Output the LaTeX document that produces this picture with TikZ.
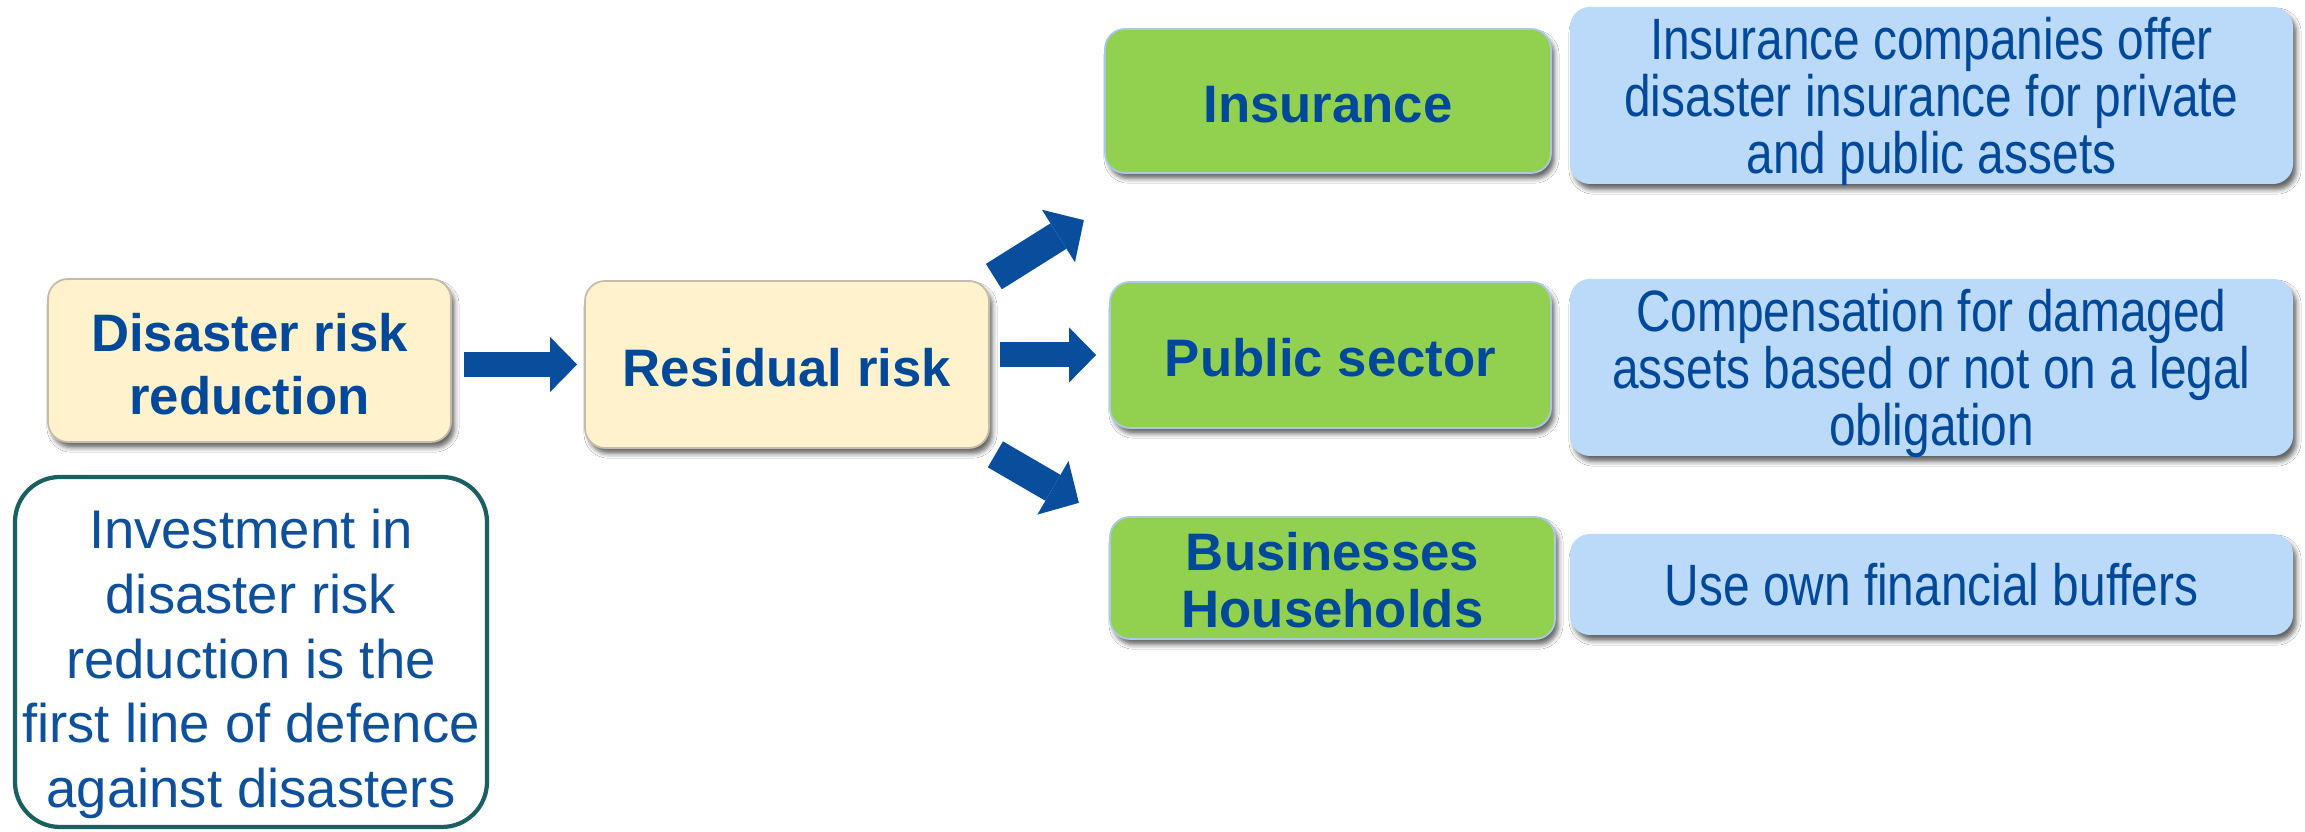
\documentclass[tikz,border=0pt]{standalone}
\usepackage{fontspec}
\setmainfont{Liberation Sans}
\newfontfamily\narrowfont[FakeStretch=0.82]{Liberation Sans}
\usetikzlibrary{arrows.meta,shadows.blur}

\definecolor{navy}{RGB}{0,72,153}
\definecolor{textblue}{RGB}{14,80,156}
\definecolor{cream}{RGB}{255,242,204}
\definecolor{creamline}{RGB}{196,188,168}
\definecolor{leaf}{RGB}{146,208,80}
\definecolor{leafline}{RGB}{170,200,232}
\definecolor{sky}{RGB}{187,218,250}
\definecolor{teal}{RGB}{26,96,96}
\definecolor{arrowblue}{RGB}{8,78,156}

\begin{document}
\begin{tikzpicture}[
  box/.style={rounded corners=0.2cm, inner sep=0pt},
  shade/.style={blur shadow={shadow xshift=1.0pt, shadow yshift=-1.6pt,
      shadow blur radius=1.3pt, shadow opacity=60}},
  creambox/.style={box, shade, fill=cream, draw=creamline, line width=0.5pt},
  greenbox/.style={box, shade, fill=leaf, draw=leafline, line width=0.5pt},
  bluebox/.style={box, shade, fill=sky, minimum width=7.23cm},
  notebox/.style={rounded corners=0.45cm, draw=teal, line width=1.2pt, fill=white,
      inner sep=0pt},
  boldtext/.style={inner sep=0pt, align=center, text=navy,
      font=\fontsize{15}{18}\selectfont\bfseries},
  pairtext/.style={boldtext, font=\fontsize{15}{16.3}\selectfont\bfseries},
  narrowtext/.style={inner sep=0pt, align=center, text=navy,
      font=\narrowfont\fontsize{16.6}{16.3}\selectfont},
  notetext/.style={inner sep=0pt, align=center, text=textblue,
      font=\fontsize{15.5}{18.4}\selectfont},
  flatarrow/.style={arrowblue, line width=0.25cm,
      -{Triangle[width=0.55cm, length=0.27cm, line width=0pt]}},
  diagarrow/.style={arrowblue, line width=0.30cm,
      -{Triangle[width=0.62cm, length=0.30cm, line width=0pt]}}
]
\fill[white] (0,0) rectangle (23.05,8.32);
\useasboundingbox (0,0) rectangle (23.05,8.32);

% left column
\node[creambox, minimum width=4.03cm, minimum height=1.63cm] (drr) at (2.495,4.715) {};
\node[boldtext] (drrtxt) at ([yshift=-0.04cm]drr.center) {Disaster risk\\reduction};
\node[notebox, minimum width=4.72cm, minimum height=3.50cm] (note) at (2.51,1.80) {};
\node[notetext] (notetxt) at ([yshift=-0.12cm]note.center)
  {Investment in\\disaster risk\\reduction is the\\first line of defence\\against disasters};

% middle
\node[creambox, minimum width=4.04cm, minimum height=1.67cm] (rr) at (7.87,4.675) {};
\node[boldtext] (rrtxt) at ([yshift=-0.03cm]rr.center) {Residual risk};

% risk bearers
\node[greenbox, minimum width=4.46cm, minimum height=1.44cm] (ins) at (13.28,7.31) {};
\node[boldtext] (instxt) at ([yshift=-0.04cm]ins.center) {Insurance};
\node[greenbox, minimum width=4.41cm, minimum height=1.46cm] (pub) at (13.305,4.77) {};
\node[boldtext] (pubtxt) at ([yshift=-0.03cm]pub.center) {Public sector};
\node[greenbox, minimum width=4.45cm, minimum height=1.22cm] (bus) at (13.325,2.54) {};
\node[pairtext] (bustxt) at ([yshift=-0.02cm]bus.center) {Businesses\\Households};

% descriptions
\node[bluebox, minimum height=1.77cm] (insd) at (19.315,7.365) {};
\node[narrowtext] (insdtxt) at ([yshift=-0.06cm]insd.center)
  {Insurance companies offer\\disaster insurance for private\\and public assets};
\node[bluebox, minimum height=1.77cm] (pubd) at (19.315,4.645) {};
\node[narrowtext] (pubdtxt) at ([yshift=-0.06cm]pubd.center)
  {Compensation for damaged\\assets based or not on a legal\\obligation};
\node[bluebox, minimum height=1.01cm] (busd) at (19.315,2.475) {};
\node[narrowtext] (busdtxt) at (busd.center) {Use own financial buffers};

% block arrows
\draw[flatarrow, shorten <=0.12cm, shorten >=0.07cm] (drr.east |- rr.west) -- (rr.west);
\draw[flatarrow, shorten <=0.10cm, shorten >=0.13cm] (rr.east |- pub.west) -- (pub.west);
\draw[diagarrow] ([shift={(0.04,0.035)}]rr.north east) -- ++(0.90,0.565);
\draw[diagarrow] ([shift={(0.055,-0.055)}]rr.south east) -- ++(0.835,-0.485);
\end{tikzpicture}
\end{document}
